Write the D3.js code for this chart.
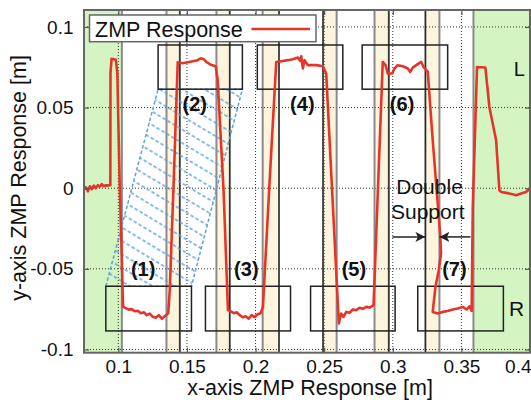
<!DOCTYPE html>
<html>
<head>
<meta charset="utf-8">
<script src="https://cdn.jsdelivr.net/npm/d3@7"></script>
<style>
  html, body { margin: 0; padding: 0; background: #fff; }
  svg { display: block; font-family: "Liberation Sans", Arial, Helvetica, sans-serif; }
</style>
</head>
<body>
<svg id="chart" width="531" height="400"></svg>
<script>
// Axis ticks
const xTicks = [0.1, 0.15, 0.2, 0.25, 0.3, 0.35, 0.4];
const xTickLabels = ["0.1", "0.15", "0.2", "0.25", "0.3", "0.35", "0.4"];
const yTicks = [-0.1, -0.05, 0, 0.05, 0.1];
const yTickLabels = ["-0.1", "-0.05", "0", "0.05", "0.1"];

// Single-support phases at start / end (green) and double-support phases (yellow)
const singleSupportStart = [0.075, 0.3588];
const singleSupportEnd = [0.1026, 0.4];
const doubleSupportStart = [0.1351, 0.1715, 0.2052, 0.2492, 0.2867, 0.3238];
const doubleSupportEnd = [0.1448, 0.1812, 0.2171, 0.2591, 0.2971, 0.3340];
// Foot contact switch instants
const contactEvents = [0.1448, 0.1812, 0.2171, 0.2492, 0.2971, 0.3238];

// Footprints
const footStart = [0.0909, 0.1290, 0.1635, 0.2013, 0.2401, 0.2777, 0.3182];
const footEnd = [0.1533, 0.1904, 0.2255, 0.2636, 0.3017, 0.3400, 0.3806];
const footSide = ["R", "L", "R", "L", "R", "L", "R"];
const footLow = { L: 0.0614, R: -0.0885 };
const footHigh = { L: 0.0888, R: -0.0608 };
const stepLabels = ["(1)", "(2)", "(3)", "(4)", "(5)", "(6)", "(7)"];
const stepLabelX = [0.1181, 0.1557, 0.1933, 0.2341, 0.2717, 0.3068, 0.3449];

// Measured ZMP trajectory
const zmpX = [
  0.0745, 0.0763, 0.0778, 0.0793, 0.0807, 0.0822, 0.0836, 0.0851, 0.0865, 0.0880, 0.0894, 0.0909, 0.0916,
  0.0942, 0.0943, 0.0951, 0.0982, 0.0993, 0.1000, 0.1011, 0.1022, 0.1031, 0.1035,
  0.1055, 0.1076, 0.1098, 0.1120, 0.1142, 0.1164, 0.1186, 0.1207, 0.1229, 0.1251, 0.1273, 0.1295, 0.1317, 0.1338, 0.1357,
  0.1364, 0.1375, 0.1404, 0.1433,
  0.1469, 0.1506, 0.1542, 0.1579, 0.1600, 0.1622, 0.1644, 0.1673, 0.1710,
  0.1724, 0.1767, 0.1799,
  0.1819, 0.1841, 0.1862, 0.1884, 0.1906, 0.1928, 0.1950, 0.1972, 0.1993, 0.2015, 0.2037, 0.2054,
  0.2103, 0.2151,
  0.2199, 0.2236, 0.2272, 0.2309, 0.2326, 0.2333, 0.2345, 0.2357, 0.2381, 0.2443, 0.2491, 0.2515,
  0.2607,
  0.2624, 0.2641, 0.2661, 0.2685, 0.2709, 0.2734, 0.2758, 0.2782, 0.2806, 0.2831, 0.2860,
  0.2927, 0.2947, 0.2964, 0.2996, 0.3012, 0.3036, 0.3073, 0.3109, 0.3127, 0.3146, 0.3182, 0.3207, 0.3224, 0.3255,
  0.3291, 0.3320, 0.3345, 0.3352, 0.3335, 0.3311, 0.3291,
  0.3328, 0.3364, 0.3400, 0.3437, 0.3473, 0.3510, 0.3539, 0.3558, 0.3575,
  0.3583, 0.3614, 0.3675, 0.3704, 0.3753, 0.3777,
  0.3789, 0.3825, 0.3873, 0.3898, 0.3935, 0.3971, 0.3995
];
const zmpY = [
  -0.0012, 0.0006, -0.0019, 0.0012, -0.0006, 0.0016, 0.0000, 0.0019, 0.0009, 0.0025, 0.0012, 0.0019, 0.0016,
  0.0019, 0.0713, 0.0803, 0.0797, 0.0713, 0.0422, -0.0012, -0.0322, -0.0614, -0.0736,
  -0.0744, -0.0753, -0.0750, -0.0763, -0.0760, -0.0775, -0.0769, -0.0787, -0.0778, -0.0797, -0.0803, -0.0787, -0.0809, -0.0794, -0.0781,
  -0.0775, -0.0632, 0.0050, 0.0781,
  0.0775, 0.0781, 0.0787, 0.0794, 0.0806, 0.0800, 0.0781, 0.0766, 0.0756,
  0.0670, -0.0012, -0.0756,
  -0.0763, -0.0775, -0.0769, -0.0787, -0.0800, -0.0794, -0.0809, -0.0787, -0.0800, -0.0781, -0.0775, -0.0736,
  0.0050, 0.0783,
  0.0789, 0.0794, 0.0800, 0.0810, 0.0789, 0.0818, 0.0742, 0.0794, 0.0763, 0.0763, 0.0756, 0.0711,
  -0.0839,
  -0.0777, -0.0798, -0.0767, -0.0773, -0.0752, -0.0756, -0.0742, -0.0748, -0.0736, -0.0740, -0.0725,
  0.0783, 0.0763, 0.0711, 0.0711, 0.0742, 0.0763, 0.0756, 0.0742, 0.0721, 0.0748, 0.0769, 0.0783, 0.0752, 0.0721,
  0.0298, -0.0012, -0.0281, -0.0405, -0.0508, -0.0612, -0.0767,
  -0.0777, -0.0767, -0.0761, -0.0752, -0.0746, -0.0736, -0.0752, -0.0732, -0.0761,
  -0.0116, 0.0752, 0.0748, 0.0504, 0.0298, -0.0012,
  -0.0023, -0.0029, -0.0037, -0.0043, -0.0033, -0.0023, -0.0008
];

const svg = d3.select("#chart");
const pLeft = 84, pRight = 530, pTop = 10, pBottom = 352.7;
const x = d3.scaleLinear().domain([0.075, 0.4]).range([pLeft, pRight]);
const y = d3.scaleLinear().domain([-0.102, 0.1105]).range([pBottom, pTop]);

const RED = "#e5352a";
const BLUE = "#5aa2da";

const defs = svg.append("defs");
defs.append("clipPath").attr("id", "plotClip")
  .append("rect").attr("x", pLeft).attr("y", pTop).attr("width", pRight - pLeft).attr("height", pBottom - pTop);

// diagonal dashed hatch for the transfer region
const hatch = defs.append("pattern")
  .attr("id", "hatch")
  .attr("patternUnits", "userSpaceOnUse")
  .attr("width", 40).attr("height", 11.5)
  .attr("patternTransform", "rotate(31)");
hatch.append("line")
  .attr("x1", 0).attr("x2", 40).attr("y1", 5.75).attr("y2", 5.75)
  .attr("stroke", BLUE).attr("stroke-width", 1.5).attr("stroke-dasharray", "3.5,2.2");

const marker = defs.append("marker")
  .attr("id", "arrowHead")
  .attr("viewBox", "0 0 10 10")
  .attr("refX", 10).attr("refY", 5)
  .attr("markerUnits", "userSpaceOnUse")
  .attr("markerWidth", 10).attr("markerHeight", 10)
  .attr("orient", "auto");
marker.append("path").attr("d", "M0,0 L10,5 L0,10 L2.5,5 Z").attr("fill", "#222");

const plot = svg.append("g").attr("clip-path", "url(#plotClip)");

// Green single-support regions
plot.selectAll("rect.single")
  .data(d3.range(singleSupportStart.length))
  .join("rect")
  .attr("class", "single")
  .attr("x", i => x(singleSupportStart[i]))
  .attr("width", i => x(singleSupportEnd[i]) - x(singleSupportStart[i]))
  .attr("y", pTop).attr("height", pBottom - pTop)
  .attr("fill", "#d4f5c2");

// Yellow double-support bands
plot.selectAll("rect.double")
  .data(d3.range(doubleSupportStart.length))
  .join("rect")
  .attr("class", "double")
  .attr("x", i => x(doubleSupportStart[i]))
  .attr("width", i => x(doubleSupportEnd[i]) - x(doubleSupportStart[i]))
  .attr("y", pTop).attr("height", pBottom - pTop)
  .attr("fill", "#fdf5dd");

// Dotted grid
plot.append("g").selectAll("line")
  .data(xTicks.slice(0, -1))
  .join("line")
  .attr("x1", d => x(d)).attr("x2", d => x(d))
  .attr("y1", pTop).attr("y2", pBottom)
  .attr("stroke", "#333").attr("stroke-width", 1).attr("stroke-dasharray", "1,2");
plot.append("g").selectAll("line")
  .data(yTicks)
  .join("line")
  .attr("x1", pLeft).attr("x2", pRight)
  .attr("y1", d => y(d)).attr("y2", d => y(d))
  .attr("stroke", "#333").attr("stroke-width", 1).attr("stroke-dasharray", "1,2");

// Phase boundaries
const edges = doubleSupportStart.concat(doubleSupportEnd, [singleSupportEnd[0], singleSupportStart[1]]);
plot.append("g").selectAll("line")
  .data(edges)
  .join("line")
  .attr("x1", d => x(d)).attr("x2", d => x(d))
  .attr("y1", pTop).attr("y2", pBottom)
  .attr("stroke", "#8a8a8a").attr("stroke-width", 2);
plot.append("g").selectAll("line")
  .data(contactEvents)
  .join("line")
  .attr("x1", d => x(d)).attr("x2", d => x(d))
  .attr("y1", pTop).attr("y2", pBottom)
  .attr("stroke", "#2a2a2a").attr("stroke-width", 1.3);

// Hatched transfer region between footprint (1) and footprint (2)
const f1 = 0, f2 = 1;
const transfer = [
  [x(footStart[f1]), y(footHigh[footSide[f1]])],
  [x(footStart[f2]), y(footLow[footSide[f2]])],
  [x(footEnd[f2]), y(footLow[footSide[f2]])],
  [x(footEnd[f1]), y(footHigh[footSide[f1]])]
];
plot.append("path")
  .attr("d", d3.line()(transfer) + "Z")
  .attr("fill", "url(#hatch)")
  .attr("stroke", BLUE).attr("stroke-width", 1.5).attr("stroke-dasharray", "3.5,2.2");

// Footprints
plot.selectAll("rect.foot")
  .data(d3.range(footStart.length))
  .join("rect")
  .attr("class", "foot")
  .attr("x", i => x(footStart[i]))
  .attr("width", i => x(footEnd[i]) - x(footStart[i]))
  .attr("y", i => y(footHigh[footSide[i]]))
  .attr("height", i => y(footLow[footSide[i]]) - y(footHigh[footSide[i]]))
  .attr("fill", "none").attr("stroke", "#222").attr("stroke-width", 1.5);

// Step numbers
svg.append("g").selectAll("text")
  .data(d3.range(stepLabels.length))
  .join("text")
  .attr("x", i => x(stepLabelX[i]))
  .attr("y", i => footSide[i] === "L" ? y(0.0477) : y(-0.0545))
  .attr("text-anchor", "middle")
  .attr("font-size", 20).attr("font-weight", "bold").attr("fill", "#111")
  .text(i => stepLabels[i]);

// Double support annotation
const ds = 5;
svg.append("text").attr("x", x(0.3268)).attr("y", 193.5)
  .attr("text-anchor", "middle").attr("font-size", 21).attr("fill", "#111").text("Double");
svg.append("text").attr("x", x(0.3255)).attr("y", 218.5)
  .attr("text-anchor", "middle").attr("font-size", 21).attr("fill", "#111").text("Support");
svg.append("line")
  .attr("x1", x(0.2998)).attr("x2", x(doubleSupportStart[ds]))
  .attr("y1", y(-0.0302)).attr("y2", y(-0.0302))
  .attr("stroke", "#222").attr("stroke-width", 1.5).attr("marker-end", "url(#arrowHead)");
svg.append("line")
  .attr("x1", x(0.3566)).attr("x2", x(doubleSupportEnd[ds]))
  .attr("y1", y(-0.0302)).attr("y2", y(-0.0302))
  .attr("stroke", "#222").attr("stroke-width", 1.5).attr("marker-end", "url(#arrowHead)");

// ZMP trajectory
const line = d3.line().x(i => x(zmpX[i])).y(i => y(zmpY[i]));
plot.append("path")
  .attr("d", line(d3.range(zmpX.length)))
  .attr("fill", "none").attr("stroke", RED).attr("stroke-width", 2.6)
  .attr("stroke-linejoin", "round").attr("stroke-linecap", "round");

// Foot side labels
svg.append("text").attr("x", x(0.3922)).attr("y", y(0.0694))
  .attr("text-anchor", "middle").attr("font-size", 20).attr("fill", "#111").text("L");
svg.append("text").attr("x", x(0.3903)).attr("y", y(-0.0790))
  .attr("text-anchor", "middle").attr("font-size", 21).attr("fill", "#111").text("R");

// Axes
const xAxis = d3.axisBottom(x).tickValues(xTicks).tickFormat((d, i) => xTickLabels[i])
  .tickSizeInner(-5).tickSizeOuter(0).tickPadding(6.5);
const gx = svg.append("g").attr("transform", `translate(0,${pBottom})`).call(xAxis);
const yAxis = d3.axisLeft(y).tickValues(yTicks).tickFormat((d, i) => yTickLabels[i])
  .tickSizeInner(-5).tickSizeOuter(0).tickPadding(10.5);
const gy = svg.append("g").attr("transform", `translate(${pLeft},0)`).call(yAxis);
const gyr = svg.append("g").attr("transform", `translate(${pRight},0)`)
  .call(d3.axisRight(y).tickValues(yTicks).tickFormat("").tickSizeInner(-5).tickSizeOuter(0));
const gxt = svg.append("g").attr("transform", `translate(0,${pTop})`)
  .call(d3.axisTop(x).tickValues(xTicks).tickFormat("").tickSizeInner(-5).tickSizeOuter(0));
[gx, gy, gyr, gxt].forEach(g => {
  g.select(".domain").remove();
  g.selectAll(".tick line").attr("stroke", "#555").attr("stroke-width", 1.2);
  g.selectAll(".tick text").attr("font-size", 19).attr("fill", "#111")
    .attr("font-family", "'Liberation Sans', Arial, sans-serif");
});
// keep the last x label inside the canvas
gx.selectAll(".tick text").filter(d => d === xTicks[xTicks.length - 1])
  .attr("text-anchor", "end").attr("x", 1);

// Frame
svg.append("rect")
  .attr("x", pLeft).attr("y", pTop).attr("width", pRight - pLeft).attr("height", pBottom - pTop)
  .attr("fill", "none").attr("stroke", "#666").attr("stroke-width", 2);

// Axis titles
svg.append("text").attr("x", 310).attr("y", 395)
  .attr("text-anchor", "middle").attr("font-size", 21.5).attr("fill", "#111")
  .text("x-axis ZMP Response [m]");
svg.append("text")
  .attr("transform", "translate(25.5,178) rotate(-90)")
  .attr("text-anchor", "middle").attr("font-size", 21.5).attr("fill", "#111")
  .text("y-axis ZMP Response [m]");

// Legend
const legend = svg.append("g");
legend.append("rect").attr("x", 89.5).attr("y", 15).attr("width", 226.5).attr("height", 26.7)
  .attr("fill", "#fff").attr("stroke", "#666").attr("stroke-width", 1.5);
legend.append("text").attr("x", 95).attr("y", 36.5)
  .attr("font-size", 21.5).attr("fill", "#111").text("ZMP Response");
legend.append("line").attr("x1", 251.5).attr("x2", 310).attr("y1", 29).attr("y2", 29)
  .attr("stroke", RED).attr("stroke-width", 2.6);
</script>
</body>
</html>
